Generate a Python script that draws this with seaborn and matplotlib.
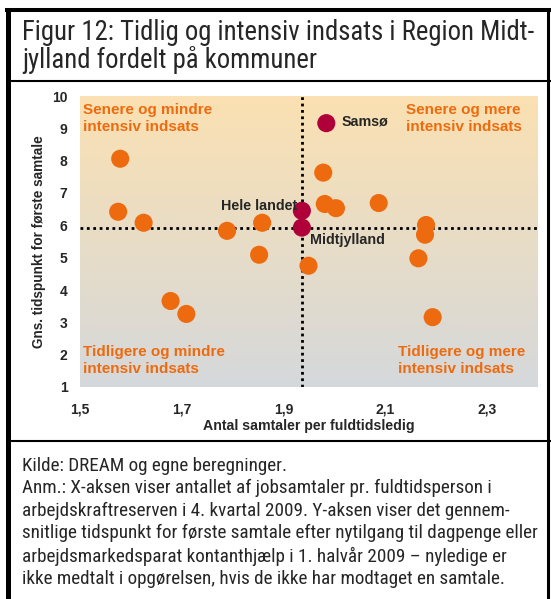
import matplotlib
matplotlib.use("Agg")
import matplotlib.pyplot as plt
import seaborn as sns
import numpy as np
from matplotlib.lines import Line2D
from matplotlib import font_manager

# kommuner (orange points)
x_kommuner = [1.579, 1.575, 1.625, 1.789, 1.858, 1.852, 1.678, 1.709, 1.949,
              1.978, 1.981, 2.003, 2.087, 2.180, 2.178, 2.165, 2.193]
y_kommuner = [8.06, 6.42, 6.08, 5.83, 6.08, 5.09, 3.66, 3.26, 4.75,
              7.63, 6.66, 6.53, 6.69, 6.01, 5.71, 4.98, 3.16]

# highlighted points
hl_names = ["Samsø", "Hele landet", "Midtjylland"]
hl_x = [1.984, 1.936, 1.936]
hl_y = [9.16, 6.45, 5.93]

x_ticks = [1.5, 1.7, 1.9, 2.1, 2.3]
x_ticklabels = ["1,5", "1,7", "1,9", "2,1", "2,3"]
y_ticks = [1, 2, 3, 4, 5, 6, 7, 8, 9, 10]

quadrant_texts = ["Senere og mindre\nintensiv indsats",
                  "Senere og mere\nintensiv indsats",
                  "Tidligere og mindre\nintensiv indsats",
                  "Tidligere og mere\nintensiv indsats"]

title = "Figur 12: Tidlig og intensiv indsats i Region Midt-\njylland fordelt på kommuner"
caption = ("Kilde: DREAM og egne beregninger.\n"
           "Anm.: X-aksen viser antallet af jobsamtaler pr. fuldtidsperson i\n"
           "arbejdskraftreserven i 4. kvartal 2009. Y-aksen viser det gennem-\n"
           "snitlige tidspunkt for første samtale efter nytilgang til dagpenge eller\n"
           "arbejdsmarkedsparat kontanthjælp i 1. halvår 2009 – nyledige er\n"
           "ikke medtalt i opgørelsen, hvis de ikke har modtaget en samtale.")

ORANGE = "#ED6B0E"
RED = "#B0003A"

sns.set_theme(style="white")
plt.rcParams['font.family'] = ['Liberation Sans', 'DejaVu Sans']

# pick a narrow face for title/caption if one is installed
installed = {f.name for f in font_manager.fontManager.ttflist}
narrow = [n for n in ['Liberation Sans Narrow', 'Arial Narrow', 'Roboto Condensed',
                      'Open Sans Condensed'] if n in installed]
narrow = narrow + ['Liberation Sans', 'DejaVu Sans']

W, H = 551, 599
fig = plt.figure(figsize=(W / 100, H / 100), dpi=100)
fig.patch.set_facecolor("white")

ax = fig.add_axes([80 / W, 1 - 387 / H, (538 - 80) / W, (387 - 96) / H])

# gradient background
top = np.array([251, 225, 178]) / 255
bot = np.array([213, 216, 219]) / 255
t = np.linspace(0, 1, 256)[:, None]
grad = (top * (1 - t) + bot * t)[:, None, :]
ax.imshow(grad, extent=[1.5, 2.4, 1, 10], aspect="auto", zorder=0)

mid_x, mid_y = hl_x[2], hl_y[2]
ax.axvline(mid_x, color="black", lw=2, linestyle=(0, (1, 1.3)), zorder=1)
ax.axhline(mid_y, color="black", lw=2, linestyle=(0, (1, 1.3)), zorder=1)

sns.scatterplot(x=x_kommuner, y=y_kommuner, ax=ax, color=ORANGE, s=170,
                edgecolor="none", zorder=3)
sns.scatterplot(x=hl_x, y=hl_y, ax=ax, color=RED, s=170,
                edgecolor="none", zorder=4)

ax.set_xlim(1.5, 2.4)
ax.set_ylim(1, 10)
ax.set_xticks(x_ticks)
ax.set_xticklabels(x_ticklabels)
ax.set_yticks(y_ticks)
for s in ax.spines.values():
    s.set_visible(False)
ax.tick_params(axis="both", length=0, labelsize=10)
ax.tick_params(axis="x", pad=11)
ax.tick_params(axis="y", pad=9)
for lbl in ax.get_xticklabels() + ax.get_yticklabels():
    lbl.set_fontweight("bold")

ax.set_xlabel("Antal samtaler per fuldtidsledig", fontsize=10.2,
              fontweight="bold", labelpad=2)
ax.set_ylabel("Gns. tidspunkt for første samtale", fontsize=9.8,
              fontweight="bold", labelpad=4)

# quadrant labels
qpos = [(1.506, 9.78), (2.140, 9.78), (1.506, 2.3), (2.124, 2.3)]
for (qx, qy), txt in zip(qpos, quadrant_texts):
    ax.text(qx, qy, txt, color=ORANGE, fontsize=11, fontweight="bold",
            ha="left", va="top", linespacing=1.3, zorder=5)

# point labels
ax.text(2.014, 9.2, hl_names[0], fontsize=10.3, fontweight="bold",
        ha="left", va="center", zorder=5)
ax.text(1.927, 6.6, hl_names[1], fontsize=10.3, fontweight="bold",
        ha="right", va="center", zorder=5)
ax.text(1.952, 5.55, hl_names[2], fontsize=10.3, fontweight="bold",
        ha="left", va="center", zorder=5)


def fitted_text(y_top, txt, width_px, line_px, size0):
    # scale font so the widest line spans width_px, then tune line pitch
    tx = fig.text(22 / W, 1 - y_top / H, txt, family=narrow, fontsize=size0,
                  ha="left", va="top")
    r = fig.canvas.get_renderer()
    w = tx.get_window_extent(r).width
    size = size0 * width_px / w
    tx.set_fontsize(size)
    n = txt.count("\n")
    ls = 1.2
    for _ in range(4):
        tx.set_linespacing(ls)
        one = fig.text(0, 0, "Kj", family=narrow, fontsize=size)
        h1 = one.get_window_extent(r).height
        one.remove()
        hn = tx.get_window_extent(r).height
        pitch = (hn - h1) / n
        ls = ls * line_px / pitch
    tx.set_linespacing(ls)
    return tx


fitted_text(19, title, 513, 28, 20)
fitted_text(457, caption, 516, 22.6, 13)

# frame lines
def hline(y, x0, x1, lw):
    fig.add_artist(Line2D([x0 / W, x1 / W], [1 - y / H, 1 - y / H],
                          color="black", lw=lw, solid_capstyle="butt"))

def vline(x, y0, y1, lw):
    fig.add_artist(Line2D([x / W, x / W], [1 - y0 / H, 1 - y1 / H],
                          color="black", lw=lw, solid_capstyle="butt"))

vline(7.5, 8, H, 3.6)
hline(10, 5, W, 2.9)
hline(81, 10, W, 1.5)
hline(441, 10, W, 1.5)
vline(548, 8, H, 2.2)

fig.savefig("out.png", dpi=100)
